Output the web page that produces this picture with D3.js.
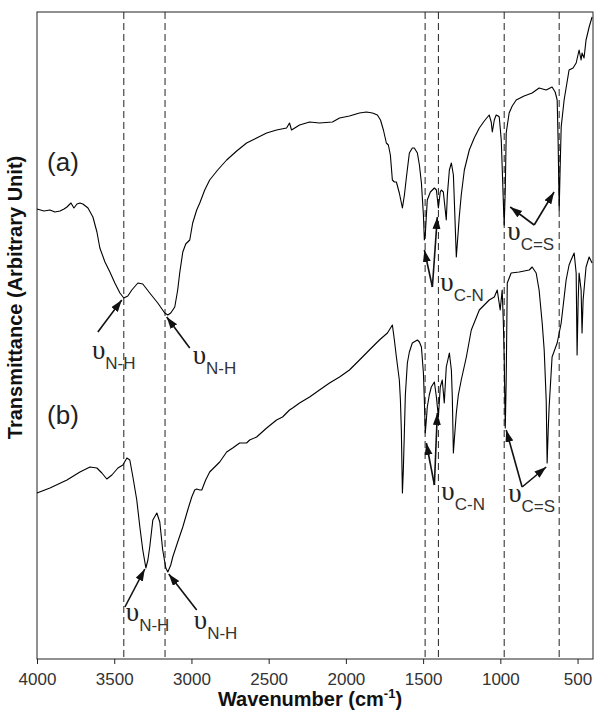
<!DOCTYPE html>
<meta charset="utf-8">
<title>FTIR spectra (a) and (b)</title>

<script src="https://d3js.org/d3.v7.min.js"></script>
<style>
        body {
            margin: 0;
            font-family: "Liberation Sans", Arial, sans-serif;
        }
</style>

<div id="ftir"></div>

<script>
    // spectrum (a): [wavenumber cm-1, transmittance (arbitrary)]
    var specA = [[4000,450],[3955,448],[3916,449],[3884,447],[3851,448],[3825,450],[3806,452],[3780,456],[3761,451],[3741,455],[3722,456],[3703,455],[3670,451],[3638,442],[3612,427],[3593,411],[3560,397],[3528,387],[3496,376],[3463,366],[3438,361],[3412,363],[3386,369],[3347,376],[3315,375],[3270,366],[3218,356],[3173,346],[3153,344],[3134,346],[3108,352],[3089,369],[3076,386],[3056,407],[3037,415],[3011,419],[2992,436],[2966,449],[2946,456],[2914,469],[2882,479],[2830,489],[2772,499],[2707,508],[2643,516],[2578,521],[2513,526],[2449,529],[2384,531],[2365,536],[2352,529],[2300,534],[2235,537],[2171,536],[2087,537],[2041,541],[1977,543],[1912,546],[1867,547],[1828,546],[1796,544],[1776,539],[1757,529],[1738,516],[1725,514],[1712,504],[1699,479],[1686,477],[1673,477],[1654,466],[1634,451],[1621,464],[1608,482],[1589,506],[1570,511],[1557,511],[1537,506],[1524,494],[1511,476],[1498,444],[1492,419],[1486,424],[1473,459],[1453,467],[1440,469],[1427,471],[1414,469],[1401,451],[1389,467],[1382,469],[1369,467],[1350,439],[1343,464],[1330,489],[1317,496],[1304,484],[1298,459],[1285,402],[1272,429],[1266,442],[1253,464],[1233,489],[1201,509],[1169,521],[1136,531],[1104,538],[1072,544],[1059,537],[1052,527],[1039,539],[1027,544],[1014,543],[1007,542],[994,519],[988,492],[981,459],[975,434],[968,469],[962,526],[943,546],[923,553],[897,559],[846,563],[794,566],[749,571],[703,569],[665,572],[645,567],[632,559],[626,519],[619,449],[613,489],[606,532],[587,559],[555,589],[529,591],[509,596],[490,609],[477,599],[471,606],[458,601],[445,619],[425,632],[406,642]];

    // spectrum (b)
    var specB = [[4000,166],[3916,171],[3806,179],[3722,187],[3657,192],[3612,191],[3580,186],[3548,180],[3515,184],[3476,191],[3444,194],[3418,201],[3399,199],[3379,182],[3354,159],[3334,132],[3315,109],[3295,91],[3282,99],[3270,112],[3250,139],[3224,146],[3205,137],[3186,109],[3166,91],[3153,87],[3134,94],[3121,102],[3089,117],[3056,132],[3024,149],[2998,162],[2979,169],[2966,170],[2946,169],[2933,169],[2908,179],[2882,187],[2817,197],[2772,207],[2733,211],[2688,216],[2643,216],[2623,219],[2578,222],[2513,231],[2449,239],[2410,242],[2365,249],[2345,251],[2300,256],[2235,262],[2171,269],[2106,276],[2041,282],[1977,289],[1912,299],[1848,309],[1783,319],[1731,326],[1699,334],[1686,319],[1673,302],[1654,279],[1647,259],[1641,229],[1634,166],[1628,189],[1621,229],[1615,264],[1602,296],[1589,307],[1570,316],[1537,319],[1524,317],[1511,312],[1498,286],[1492,259],[1486,226],[1479,239],[1473,252],[1460,264],[1447,272],[1427,277],[1414,262],[1401,242],[1389,272],[1376,279],[1363,256],[1350,292],[1330,306],[1317,289],[1311,262],[1304,206],[1298,219],[1285,246],[1272,264],[1253,279],[1220,302],[1188,329],[1136,349],[1104,354],[1072,359],[1039,362],[1020,369],[1001,349],[988,369],[981,339],[975,302],[968,231],[962,279],[955,376],[930,386],[878,387],[813,389],[794,392],[768,386],[749,369],[729,336],[716,309],[703,259],[697,196],[690,229],[684,252],[665,302],[632,316],[606,336],[574,379],[555,394],[542,399],[522,406],[509,386],[503,304],[496,359],[490,386],[477,369],[471,326],[464,359],[445,392],[425,402],[406,396]];

    var xTicks = [4000, 3500, 3000, 2500, 2000, 1500, 1000, 500];

    // band positions marked with dashed lines
    var bandLines = [3438, 3171, 1487, 1401, 975, 619];

    var curveTags = [{name: "(a)", w: 3935, t: 488}, {name: "(b)", w: 3935, t: 235}];

    // arrows: from [w, t] to [w, t]
    var arrows = [
        [3606, 327, 3451, 359], [3011, 311, 3160, 342],
        [3431, 52, 3302, 90], [2966, 49, 3147, 85],
        [1440, 372, 1492, 409], [1440, 372, 1408, 442],
        [781, 434, 936, 452], [781, 434, 652, 467],
        [1427, 174, 1479, 216], [1427, 174, 1408, 246],
        [859, 172, 962, 229], [859, 172, 703, 192]
    ];

    var bandLabels = [
        {w: 3644, t: 300, sub: "N-H"}, {w: 2992, t: 295, sub: "N-H"},
        {w: 3425, t: 38, sub: "N-H"}, {w: 2985, t: 30, sub: "N-H"},
        {w: 1389, t: 368, sub: "C-N"}, {w: 955, t: 419, sub: "C=S"},
        {w: 1382, t: 159, sub: "C-N"}, {w: 949, t: 157, sub: "C=S"}
    ];

    var margins = {top: 12, right: 2, bottom: 54, left: 37},
        width = 595 - margins.left - margins.right,
        height = 713 - margins.top - margins.bottom;

    var svg = d3.select("#ftir")
      .append("svg")
        .attr("width", width + margins.left + margins.right)
        .attr("height", height + margins.top + margins.bottom)
      .append("g")
        .attr("transform", "translate(" + margins.left + "," + margins.top + ")");

    var x = d3.scaleLinear().domain([4000, 400]).range([0, width]);
    var y = d3.scaleLinear().domain([0, 647]).range([height, 0]);

    // arrow head
    svg.append("defs").append("marker")
        .attr("id", "head")
        .attr("markerUnits", "userSpaceOnUse")
        .attr("markerWidth", 13)
        .attr("markerHeight", 9)
        .attr("refX", 12)
        .attr("refY", 4)
        .attr("orient", "auto")
      .append("path")
        .attr("d", "M0,0L12,4L0,8Z")
        .attr("fill", "#111");

    // x axis
    var xAxis = svg.append("g")
      .attr("transform", "translate(0," + height + ")")
      .call(d3.axisBottom(x).tickValues(xTicks).tickFormat(d3.format("d"))
        .tickSize(5).tickSizeOuter(0).tickPadding(9))
    xAxis.select(".domain").remove()
    xAxis.selectAll("line").attr("stroke", "#222")
    xAxis.selectAll("text")
      .attr("font-size", "17px")
      .attr("font-family", "Liberation Sans, Arial, sans-serif")
      .attr("fill", "#333")

    // frame
    svg.append("rect")
      .attr("width", width)
      .attr("height", height)
      .attr("fill", "none")
      .attr("stroke", "#222")
      .attr("stroke-width", 1)

    // dashed band lines
    svg.selectAll(".band")
      .data(bandLines)
      .enter()
      .append("line")
      .attr("x1", function(d) { return x(d); })
      .attr("x2", function(d) { return x(d); })
      .attr("y1", 0)
      .attr("y2", height)
      .attr("stroke", "#222")
      .attr("stroke-width", 1)
      .attr("stroke-dasharray", "7,4")

    // spectra
    var line = d3.line()
      .x(function(d) { return x(d[0]); })
      .y(function(d) { return y(d[1]); });

    [specA, specB].forEach(function(s) {
      svg.append("path")
        .datum(s)
        .attr("fill", "none")
        .attr("stroke", "#000")
        .attr("stroke-width", 1.1)
        .attr("stroke-linejoin", "round")
        .attr("d", line)
    })

    // (a) and (b) tags
    svg.selectAll(".tag")
      .data(curveTags)
      .enter()
      .append("text")
      .attr("x", function(d) { return x(d.w); })
      .attr("y", function(d) { return y(d.t); })
      .attr("font-size", "26px")
      .attr("fill", "#222")
      .text(function(d) { return d.name; })

    // arrows
    svg.selectAll(".arrow")
      .data(arrows)
      .enter()
      .append("line")
      .attr("x1", function(d) { return x(d[0]); })
      .attr("y1", function(d) { return y(d[1]); })
      .attr("x2", function(d) { return x(d[2]); })
      .attr("y2", function(d) { return y(d[3]); })
      .attr("stroke", "#111")
      .attr("stroke-width", 1.6)
      .attr("marker-end", "url(#head)")

    // nu labels
    var lab = svg.selectAll(".nu")
      .data(bandLabels)
      .enter()
      .append("text")
      .attr("x", function(d) { return x(d.w); })
      .attr("y", function(d) { return y(d.t); })
      .attr("fill", "#222")
    lab.append("tspan")
      .attr("font-family", "Liberation Serif, Times New Roman, serif")
      .attr("font-size", "27px")
      .text("\u03c5")
    lab.append("tspan")
      .attr("dy", 10)
      .attr("font-size", "17px")
      .attr("fill", "#333")
      .text(function(d) { return d.sub; })

    // axis titles
    var xt = svg.append("text")
      .attr("x", 273)
      .attr("y", height + 47)
      .attr("text-anchor", "middle")
      .style("font-weight", "bold")
      .style("font-size", "20px")
      .attr("fill", "#111")
    xt.append("tspan").text("Wavenumber (cm")
    xt.append("tspan").attr("dy", -8).style("font-size", "13px").text("-1")
    xt.append("tspan").attr("dy", 8).text(")")

    svg.append("text")
      .attr("transform", "translate(-15," + (height / 2 - 38) + ") rotate(-90)")
      .attr("text-anchor", "middle")
      .style("font-weight", "bold")
      .style("font-size", "20px")
      .attr("fill", "#111")
      .text("Transmittance (Arbitrary Unit)")
</script>
